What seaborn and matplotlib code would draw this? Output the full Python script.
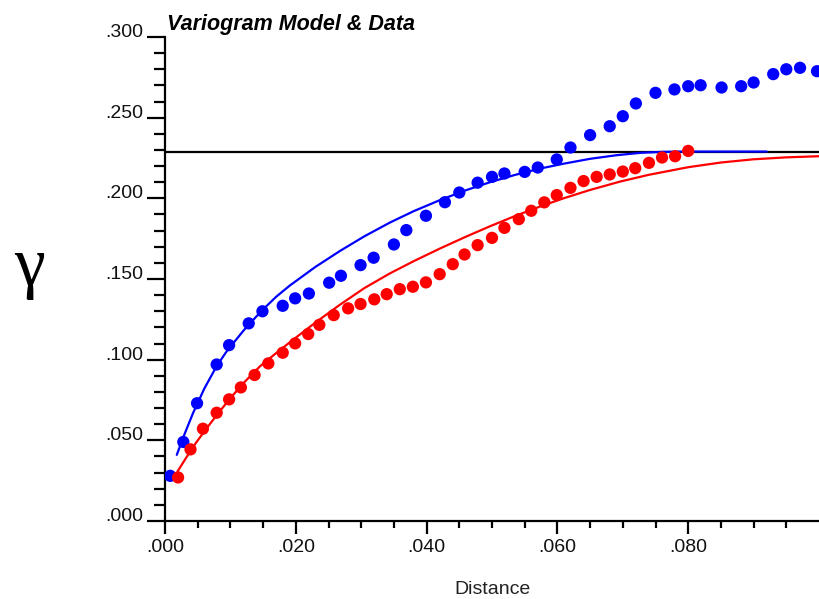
import matplotlib
matplotlib.use("Agg")
import matplotlib.pyplot as plt
import seaborn as sns
from matplotlib.ticker import FixedLocator, MultipleLocator

# ---- data ----
blue_x = [0.0008, 0.0028, 0.0049, 0.0079, 0.0098, 0.0128, 0.0149, 0.0180, 0.0199, 0.0220,
          0.0251, 0.0269, 0.0299, 0.0319, 0.0350, 0.0369, 0.0399, 0.0428, 0.0450, 0.0478,
          0.0500, 0.0519, 0.0550, 0.0570, 0.0599, 0.0620, 0.0650, 0.0680, 0.0700, 0.0720,
          0.0750, 0.0779, 0.0800, 0.0819, 0.0851, 0.0881, 0.0900, 0.0930, 0.0950, 0.0971,
          0.0997]
blue_y = [0.028, 0.049, 0.073, 0.097, 0.109, 0.1225, 0.130, 0.1334, 0.138, 0.141,
          0.1477, 0.152, 0.1586, 0.1632, 0.1714, 0.1803, 0.1892, 0.1976, 0.2036, 0.2097,
          0.2133, 0.2154, 0.2164, 0.2191, 0.2241, 0.2315, 0.2392, 0.2447, 0.2509, 0.2588,
          0.2654, 0.2675, 0.2695, 0.2701, 0.2687, 0.2695, 0.2718, 0.2770, 0.2800, 0.2809,
          0.2788]

red_x = [0.0020, 0.0039, 0.0058, 0.0079, 0.0098, 0.0116, 0.0137, 0.0158, 0.0180, 0.0199,
         0.0219, 0.0236, 0.0258, 0.0280, 0.0299, 0.0320, 0.0339, 0.0359, 0.0379, 0.0399,
         0.0420, 0.0440, 0.0458, 0.0478, 0.0500, 0.0519, 0.0541, 0.0560, 0.0580, 0.0599,
         0.0620, 0.0640, 0.0660, 0.0680, 0.0700, 0.0719, 0.0740, 0.0760, 0.0780, 0.0800]
red_y = [0.027, 0.0444, 0.0572, 0.0671, 0.0754, 0.0828, 0.0905, 0.0977, 0.1043, 0.1101,
         0.1159, 0.1216, 0.1276, 0.1318, 0.1345, 0.1374, 0.1406, 0.1437, 0.1452, 0.1479,
         0.1530, 0.1592, 0.1652, 0.1710, 0.1755, 0.1817, 0.1871, 0.1923, 0.1975, 0.2020,
         0.2065, 0.2107, 0.2133, 0.2148, 0.2166, 0.2187, 0.2220, 0.2253, 0.2261, 0.2294]

# model curves
blue_model_x = [0.0018, 0.0030, 0.0043, 0.0060, 0.0079, 0.0094, 0.0120, 0.0147, 0.0170,
                0.0191, 0.0230, 0.0268, 0.0305, 0.0344, 0.0380, 0.0421, 0.0460, 0.0497,
                0.0535, 0.0574, 0.0610, 0.0650, 0.0690, 0.0727, 0.0760, 0.0800, 0.0920]
blue_model_y = [0.041, 0.054, 0.067, 0.082, 0.096, 0.105, 0.118, 0.130, 0.139,
                0.146, 0.1575, 0.1675, 0.1765, 0.1850, 0.1920, 0.1990, 0.2050, 0.2100,
                0.2145, 0.2185, 0.2215, 0.2245, 0.2267, 0.2282, 0.2288, 0.229, 0.229]

red_model_x = [0.0019, 0.0030, 0.0043, 0.0060, 0.0080, 0.0100, 0.0120, 0.0145, 0.0170,
               0.0196, 0.0230, 0.0268, 0.0305, 0.0344, 0.0380, 0.0421, 0.0460, 0.0497,
               0.0535, 0.0574, 0.0610, 0.0650, 0.0696, 0.0740, 0.0800, 0.0850, 0.0900,
               0.0950, 0.1000]
red_model_y = [0.0306, 0.0377, 0.0460, 0.0555, 0.0661, 0.0762, 0.0855, 0.0958, 0.1041,
               0.1124, 0.1230, 0.1342, 0.1444, 0.1535, 0.1610, 0.1690, 0.1762, 0.1827,
               0.1890, 0.1950, 0.2001, 0.2052, 0.2104, 0.2146, 0.2193, 0.2222, 0.2242,
               0.2254, 0.2261]

sill = 0.229

x_ticks = [0.0, 0.02, 0.04, 0.06, 0.08]
x_tick_labels = [".000", ".020", ".040", ".060", ".080"]
y_ticks = [0.0, 0.05, 0.10, 0.15, 0.20, 0.25, 0.30]
y_tick_labels = [".000", ".050", ".100", ".150", ".200", ".250", ".300"]

title = "Variogram Model & Data"
x_label = "Distance"
y_label = "γ"

# ---- drawing ----
sns.set_theme(style="white")
plt.rcParams["font.family"] = ["Liberation Sans", "DejaVu Sans"]

W, H = 819, 599
fig = plt.figure(figsize=(W / 100, H / 100), dpi=100)
ax = fig.add_axes([165 / W, 1 - 521 / H, (W - 165) / W, (521 - 37) / H])

ax.axhline(sill, color="black", lw=1.6, zorder=1)
sns.lineplot(x=blue_model_x, y=blue_model_y, color="#0000ff", lw=1.6, ax=ax, zorder=2)
sns.lineplot(x=red_model_x, y=red_model_y, color="#ff0000", lw=1.6, ax=ax, zorder=2)
sns.scatterplot(x=blue_x, y=blue_y, color="#0000ff", s=78, edgecolor="none", ax=ax, zorder=3)
sns.scatterplot(x=red_x, y=red_y, color="#ff0000", s=78, edgecolor="none", ax=ax, zorder=3)

ax.set_xlim(0, 0.1)
ax.set_ylim(0, 0.3)

ax.xaxis.set_major_locator(FixedLocator(x_ticks))
ax.set_xticklabels(x_tick_labels)
ax.xaxis.set_minor_locator(FixedLocator([i * 0.005 for i in range(1, 20) if i % 4 != 0]))
ax.yaxis.set_major_locator(FixedLocator(y_ticks))
ax.set_yticklabels(y_tick_labels)
ax.yaxis.set_minor_locator(MultipleLocator(0.01))

for side in ["top", "right"]:
    ax.spines[side].set_visible(False)
for side in ["left", "bottom"]:
    ax.spines[side].set_color("black")
    ax.spines[side].set_linewidth(1.6)

ax.tick_params(axis="x", which="major", direction="out", length=9, width=1.6,
               color="black", labelsize=14, pad=4, bottom=True, labelcolor="#111111")
ax.tick_params(axis="x", which="minor", direction="out", length=5, width=1.6,
               color="black", bottom=True)
ax.tick_params(axis="y", which="major", direction="out", length=13, width=1.6,
               color="black", labelsize=14, pad=3, left=True, labelcolor="#111111")
ax.tick_params(axis="y", which="minor", direction="out", length=8, width=1.6,
               color="black", left=True)
for lab in ax.get_yticklabels():
    lab.set_verticalalignment("baseline")

ax.set_xlabel(x_label, fontsize=14, labelpad=18, color="#222222")
ax.set_ylabel(y_label, rotation=0, fontsize=50, family=["Liberation Serif", "DejaVu Serif"],
              color="black")
ax.yaxis.set_label_coords((30 - 165) / (W - 165), (521 - 268) / (521 - 37))
ax.yaxis.label.set_verticalalignment("center")
ax.yaxis.label.set_horizontalalignment("center")

fig.text(167 / W, 1 - 30 / H, title, fontsize=15.5, fontweight="bold", fontstyle="italic",
         va="baseline", ha="left", color="black")

fig.savefig("out.png", dpi=100)
